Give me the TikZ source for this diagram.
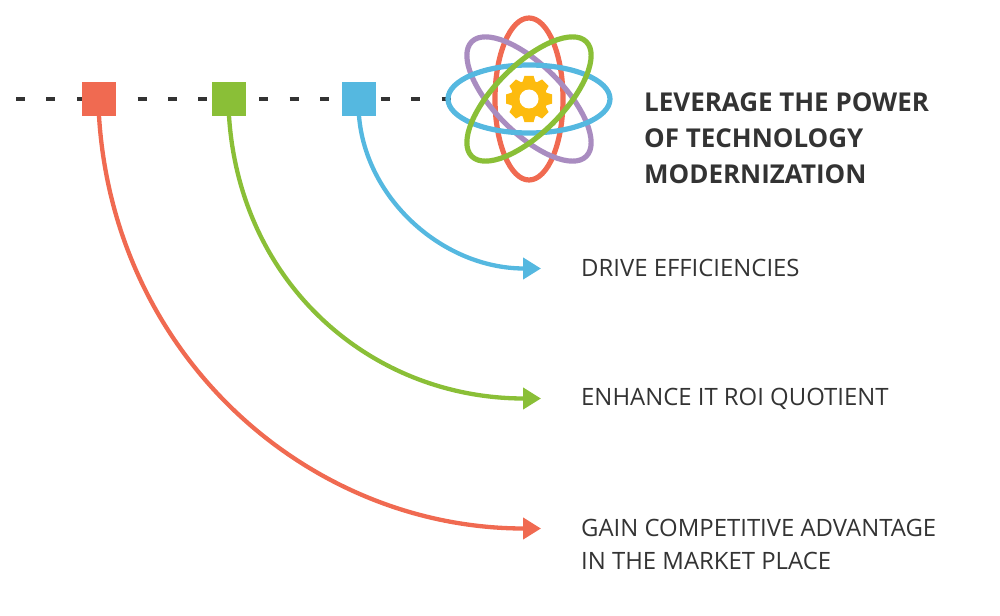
\documentclass[tikz,border=0pt]{standalone}
\usepackage{fontspec}
\setmainfont{Open Sans}
\usetikzlibrary{arrows.meta}
\definecolor{cred}{HTML}{F06A51}
\definecolor{cgreen}{HTML}{8ABF37}
\definecolor{cblue}{HTML}{55B8E0}
\definecolor{cpurple}{HTML}{A98CC0}
\definecolor{cgold}{HTML}{FDBB0E}
\definecolor{cdark}{HTML}{333333}
\tikzset{
  x=1pt,y=-1pt,
  marker/.style={minimum size=34pt,inner sep=0pt,outer sep=0pt,draw=none},
  conn/.style={line width=4.3pt,-{Triangle[length=18pt,width=21pt]}},
  orbit/.style={line width=5.2pt},
  title/.style={anchor=base west,inner sep=0pt,font=\fontsize{25.95}{30}\selectfont\bfseries,text=cdark},
  label/.style={anchor=base west,inner sep=0pt,font=\fontsize{23.9}{28}\selectfont,text=cdark},
}
\begin{document}
\begin{tikzpicture}
\useasboundingbox (0,0) rectangle (1000,615);
\coordinate (dashL) at (16,99);
\coordinate (dashR) at (451,99);
\draw[cdark,line width=4pt,dash pattern=on 9pt off 21.4pt] (dashL) -- (dashR);
\node[marker,fill=cred] (sr) at (99,99) {};
\node[marker,fill=cgreen] (sg) at (229,99) {};
\node[marker,fill=cblue] (sb) at (359,99) {};
\coordinate (tb) at (541,268.5);
\coordinate (tg) at (541,398.5);
\coordinate (tr) at (541,528.5);
\draw[conn,cblue] (sb.south) .. controls (366,200) and (444,268.5) .. (tb);
\draw[conn,cgreen] (sg.south) .. controls (240,285) and (372,398.5) .. (tg);
\draw[conn,cred] (sr.south) .. controls (114,358) and (310,528.5) .. (tr);
\begin{scope}[shift={(529,99)}]
  \draw[orbit,cred] (0,0) ellipse [x radius=34,y radius=81];
  \draw[orbit,cpurple,rotate=-45] (0,0) ellipse [x radius=81,y radius=34];
  \draw[orbit,cblue] (0,0) ellipse [x radius=81,y radius=34];
  \draw[orbit,cgreen,rotate=45] (0,0) ellipse [x radius=81,y radius=34];
  \fill[cgold] (0,0) circle [radius=18.5];
  \foreach \a in {0,45,...,315}{
    \fill[cgold,rotate=\a] (15,-7) -- (23,-4.6) -- (23,4.6) -- (15,7) -- cycle;
  }
  \fill[white] (0,0) circle [radius=9.5];
\end{scope}
\node[title] (t1) at (644,112) {LEVERAGE THE POWER};
\node[title] (t2) at (644,147) {OF TECHNOLOGY};
\node[title] (t3) at (644,183) {MODERNIZATION};
\node[label] (l1) at (581,276) {DRIVE EFFICIENCIES};
\node[label] (l2) at (581,405) {ENHANCE IT ROI QUOTIENT};
\node[label] (l3) at (581,536) {GAIN COMPETITIVE ADVANTAGE};
\node[label] (l4) at (581,569) {IN THE MARKET PLACE};
\end{tikzpicture}
\end{document}
